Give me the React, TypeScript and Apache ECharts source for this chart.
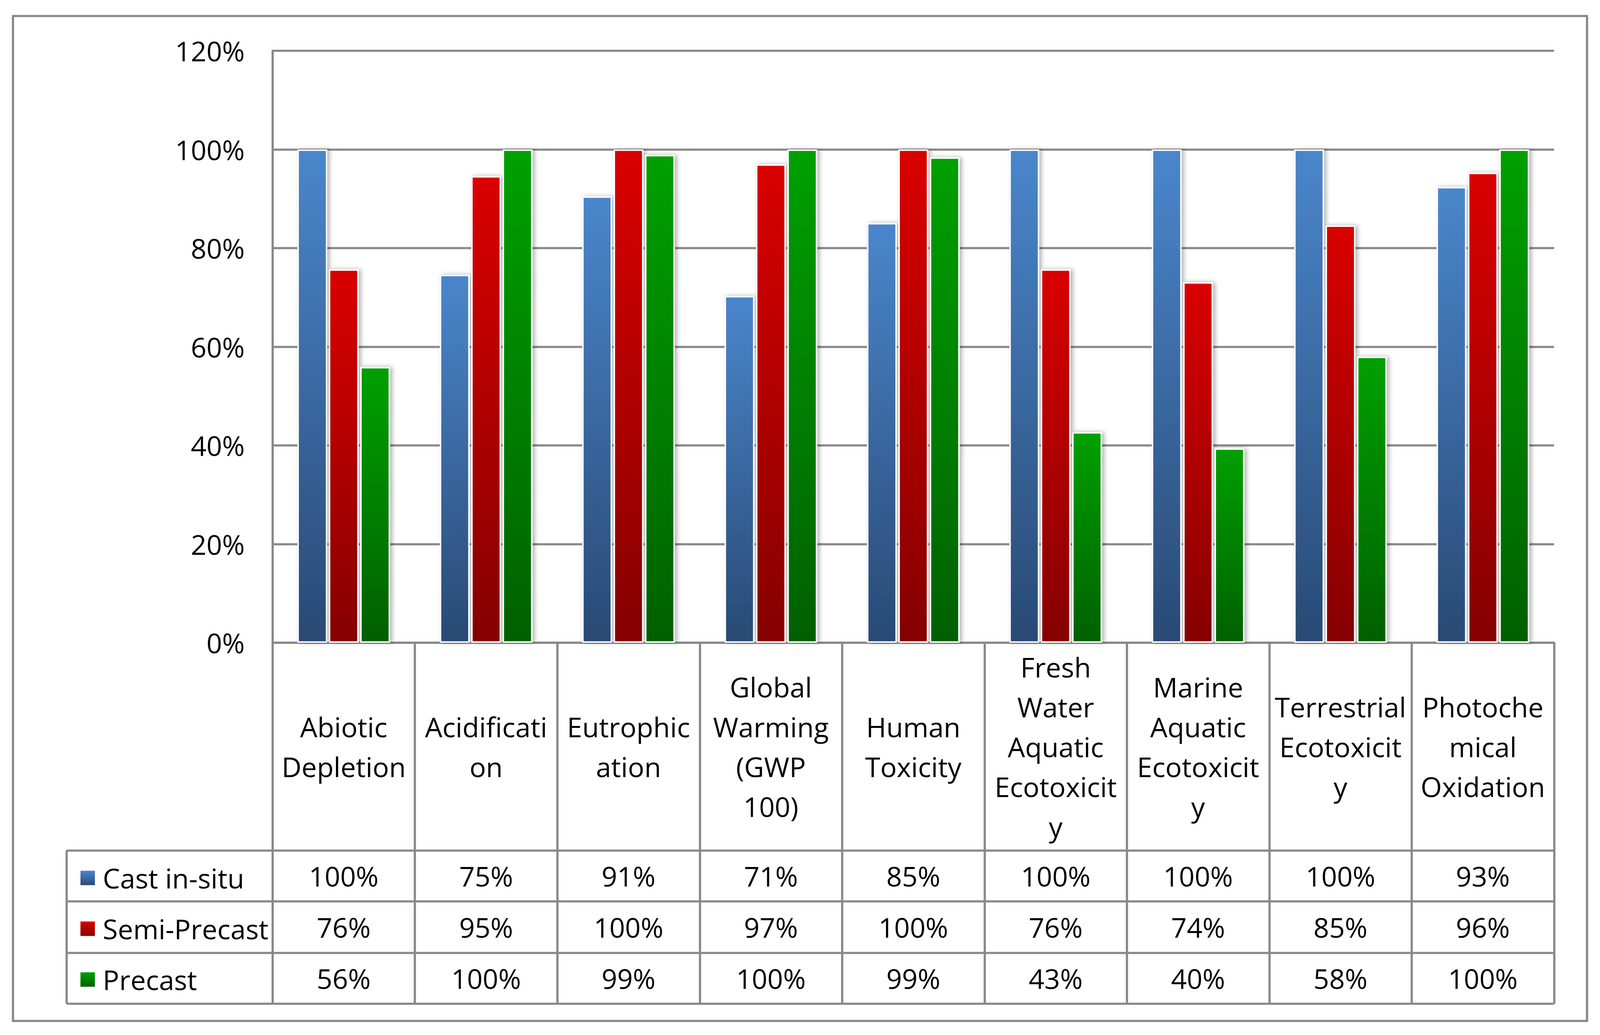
import React, { useEffect, useRef } from "react";
import * as echarts from "echarts";

const categories = [
  "Abiotic\nDepletion",
  "Acidificati\non",
  "Eutrophic\nation",
  "Global\nWarming\n(GWP\n100)",
  "Human\nToxicity",
  "Fresh\nWater\nAquatic\nEcotoxicit\ny",
  "Marine\nAquatic\nEcotoxicit\ny",
  "Terrestrial\nEcotoxicit\ny",
  "Photoche\nmical\nOxidation",
];

const seriesNames = ["Cast in-situ", "Semi-Precast", "Precast"];

const castInSitu = [100, 74.6, 90.5, 70.3, 85.1, 100, 100, 100, 92.4];
const semiPrecast = [75.7, 94.6, 100, 97.0, 100, 75.7, 73.1, 84.6, 95.3];
const precast = [55.9, 100, 98.9, 100, 98.4, 42.7, 39.4, 58.0, 100];

const castInSituLabels = ["100%", "75%", "91%", "71%", "85%", "100%", "100%", "100%", "93%"];
const semiPrecastLabels = ["76%", "95%", "100%", "97%", "100%", "76%", "74%", "85%", "96%"];
const precastLabels = ["56%", "100%", "99%", "100%", "99%", "43%", "40%", "58%", "100%"];

const yTicks = [0, 20, 40, 60, 80, 100, 120];

const REF_W = 4321;
const REF_H = 2649;
const GRAY = "#898989";
const FONT = "Open Sans";

function grad(top: string, bottom: string) {
  return new echarts.graphic.LinearGradient(0, 0, 0, 1, [
    { offset: 0, color: top },
    { offset: 1, color: bottom },
  ]);
}

export default function App() {
  const ref = useRef<HTMLDivElement>(null);
  const W = typeof window !== "undefined" ? window.innerWidth : REF_W;
  const H = typeof window !== "undefined" ? window.innerHeight : REF_H;
  useEffect(() => {
    if (!ref.current) return;
    const sx = W / REF_W;
    const sy = H / REF_H;
    const s = Math.min(sx, sy);
    const X = (v: number) => v * sx;
    const Y = (v: number) => v * sy;

    const PLOT_L = X(736);
    const PLOT_R = X(4197);
    const PLOT_T = Y(130);
    const PLOT_B = Y(1645);
    const ROW_LINES = [2177, 2307, 2439, 2569].map(Y);
    const TABLE_L = X(180);
    const FS = 74 * s;
    const LW = 6 * s;

    const chart = echarts.init(ref.current, undefined, { renderer: "svg" });
    const colors = [
      grad("#4A86CC", "#294A74"),
      grad("#DA0000", "#850000"),
      grad("#00A000", "#006000"),
    ];
    const values = [castInSitu, semiPrecast, precast];
    const rowLabels = [castInSituLabels, semiPrecastLabels, precastLabels];
    const rowCenters = [
      (ROW_LINES[0] + ROW_LINES[1]) / 2,
      (ROW_LINES[1] + ROW_LINES[2]) / 2,
      (ROW_LINES[2] + ROW_LINES[3]) / 2,
    ];

    const lineStyle = { stroke: GRAY, lineWidth: LW };
    const graphics: any[] = [
      {
        type: "rect",
        shape: { x: X(35), y: Y(41), width: X(4286 - 35), height: Y(2613 - 41) },
        style: { fill: "none", stroke: GRAY, lineWidth: LW },
        silent: true,
      },
      ...ROW_LINES.map((y) => ({
        type: "line",
        shape: { x1: TABLE_L, y1: y, x2: PLOT_R, y2: y },
        style: lineStyle,
        silent: true,
      })),
      {
        type: "line",
        shape: { x1: TABLE_L, y1: ROW_LINES[0], x2: TABLE_L, y2: ROW_LINES[3] },
        style: lineStyle,
        silent: true,
      },
    ];

    const tableAxes = rowLabels.map((labels, i) => ({
      type: "category",
      gridIndex: 0,
      position: "bottom",
      offset: rowCenters[i] - PLOT_B,
      data: labels,
      axisLine: { show: false },
      axisTick: { show: false },
      axisLabel: {
        interval: 0,
        margin: 0,
        verticalAlign: "middle",
        color: "#000",
        fontFamily: FONT,
        fontSize: FS,
      },
    }));

    const catW = (PLOT_R - PLOT_L) / categories.length;
    const barW = catW * 0.21;

    chart.setOption({
      animation: false,
      backgroundColor: "#fff",
      textStyle: { fontFamily: FONT },
      grid: {
        left: PLOT_L,
        right: W - PLOT_R,
        top: PLOT_T,
        bottom: H - PLOT_B,
        containLabel: false,
      },
      legend: {
        orient: "vertical",
        left: X(212),
        top: ROW_LINES[0],
        itemWidth: 39 * s,
        itemHeight: 39 * s,
        itemGap: 0,
        selectedMode: false,
        icon: "rect",
        itemStyle: { borderWidth: 0, shadowBlur: 0, shadowOffsetX: 0 },
        textStyle: {
          fontFamily: FONT,
          fontSize: FS,
          color: "#000",
          lineHeight: ROW_LINES[1] - ROW_LINES[0],
          padding: [0, 0, 0, 16 * s],
        },
        data: seriesNames,
      },
      xAxis: [
        {
          type: "category",
          data: categories,
          position: "bottom",
          axisLine: { show: true, lineStyle: { color: GRAY, width: LW } },
          axisTick: {
            show: true,
            inside: false,
            length: ROW_LINES[3] - PLOT_B,
            lineStyle: { color: GRAY, width: LW },
          },
          axisLabel: {
            interval: 0,
            margin: (PLOT_B + ROW_LINES[0]) / 2 - PLOT_B,
            verticalAlign: "middle",
            align: "center",
            color: "#000",
            fontFamily: FONT,
            fontSize: FS,
            lineHeight: 102 * sy,
          },
        },
        ...tableAxes,
      ],
      yAxis: {
        type: "value",
        min: yTicks[0],
        max: yTicks[yTicks.length - 1],
        interval: 20,
        axisLine: { show: true, lineStyle: { color: GRAY, width: LW } },
        axisTick: { show: false },
        splitLine: { show: true, lineStyle: { color: GRAY, width: LW } },
        axisLabel: {
          margin: 75 * sx,
          color: "#000",
          fontFamily: FONT,
          fontSize: FS,
          formatter: (v: number) => `${v}%`,
        },
      },
      series: values.map((data, i) => ({
        name: seriesNames[i],
        type: "bar",
        xAxisIndex: 0,
        data,
        barWidth: barW,
        barGap: "5%",
        itemStyle: {
          color: colors[i],
          borderColor: "#fff",
          borderWidth: 4 * s,
          shadowColor: "rgba(0,0,0,0.3)",
          shadowBlur: 12 * s,
          shadowOffsetX: 6 * s,
        },
      })),
      graphic: graphics,
    });
    return () => chart.dispose();
  }, []);
  return (
    <div
      ref={ref}
      style={{ position: "fixed", left: 0, top: 0, width: W, height: H, background: "#fff" }}
    />
  );
}
